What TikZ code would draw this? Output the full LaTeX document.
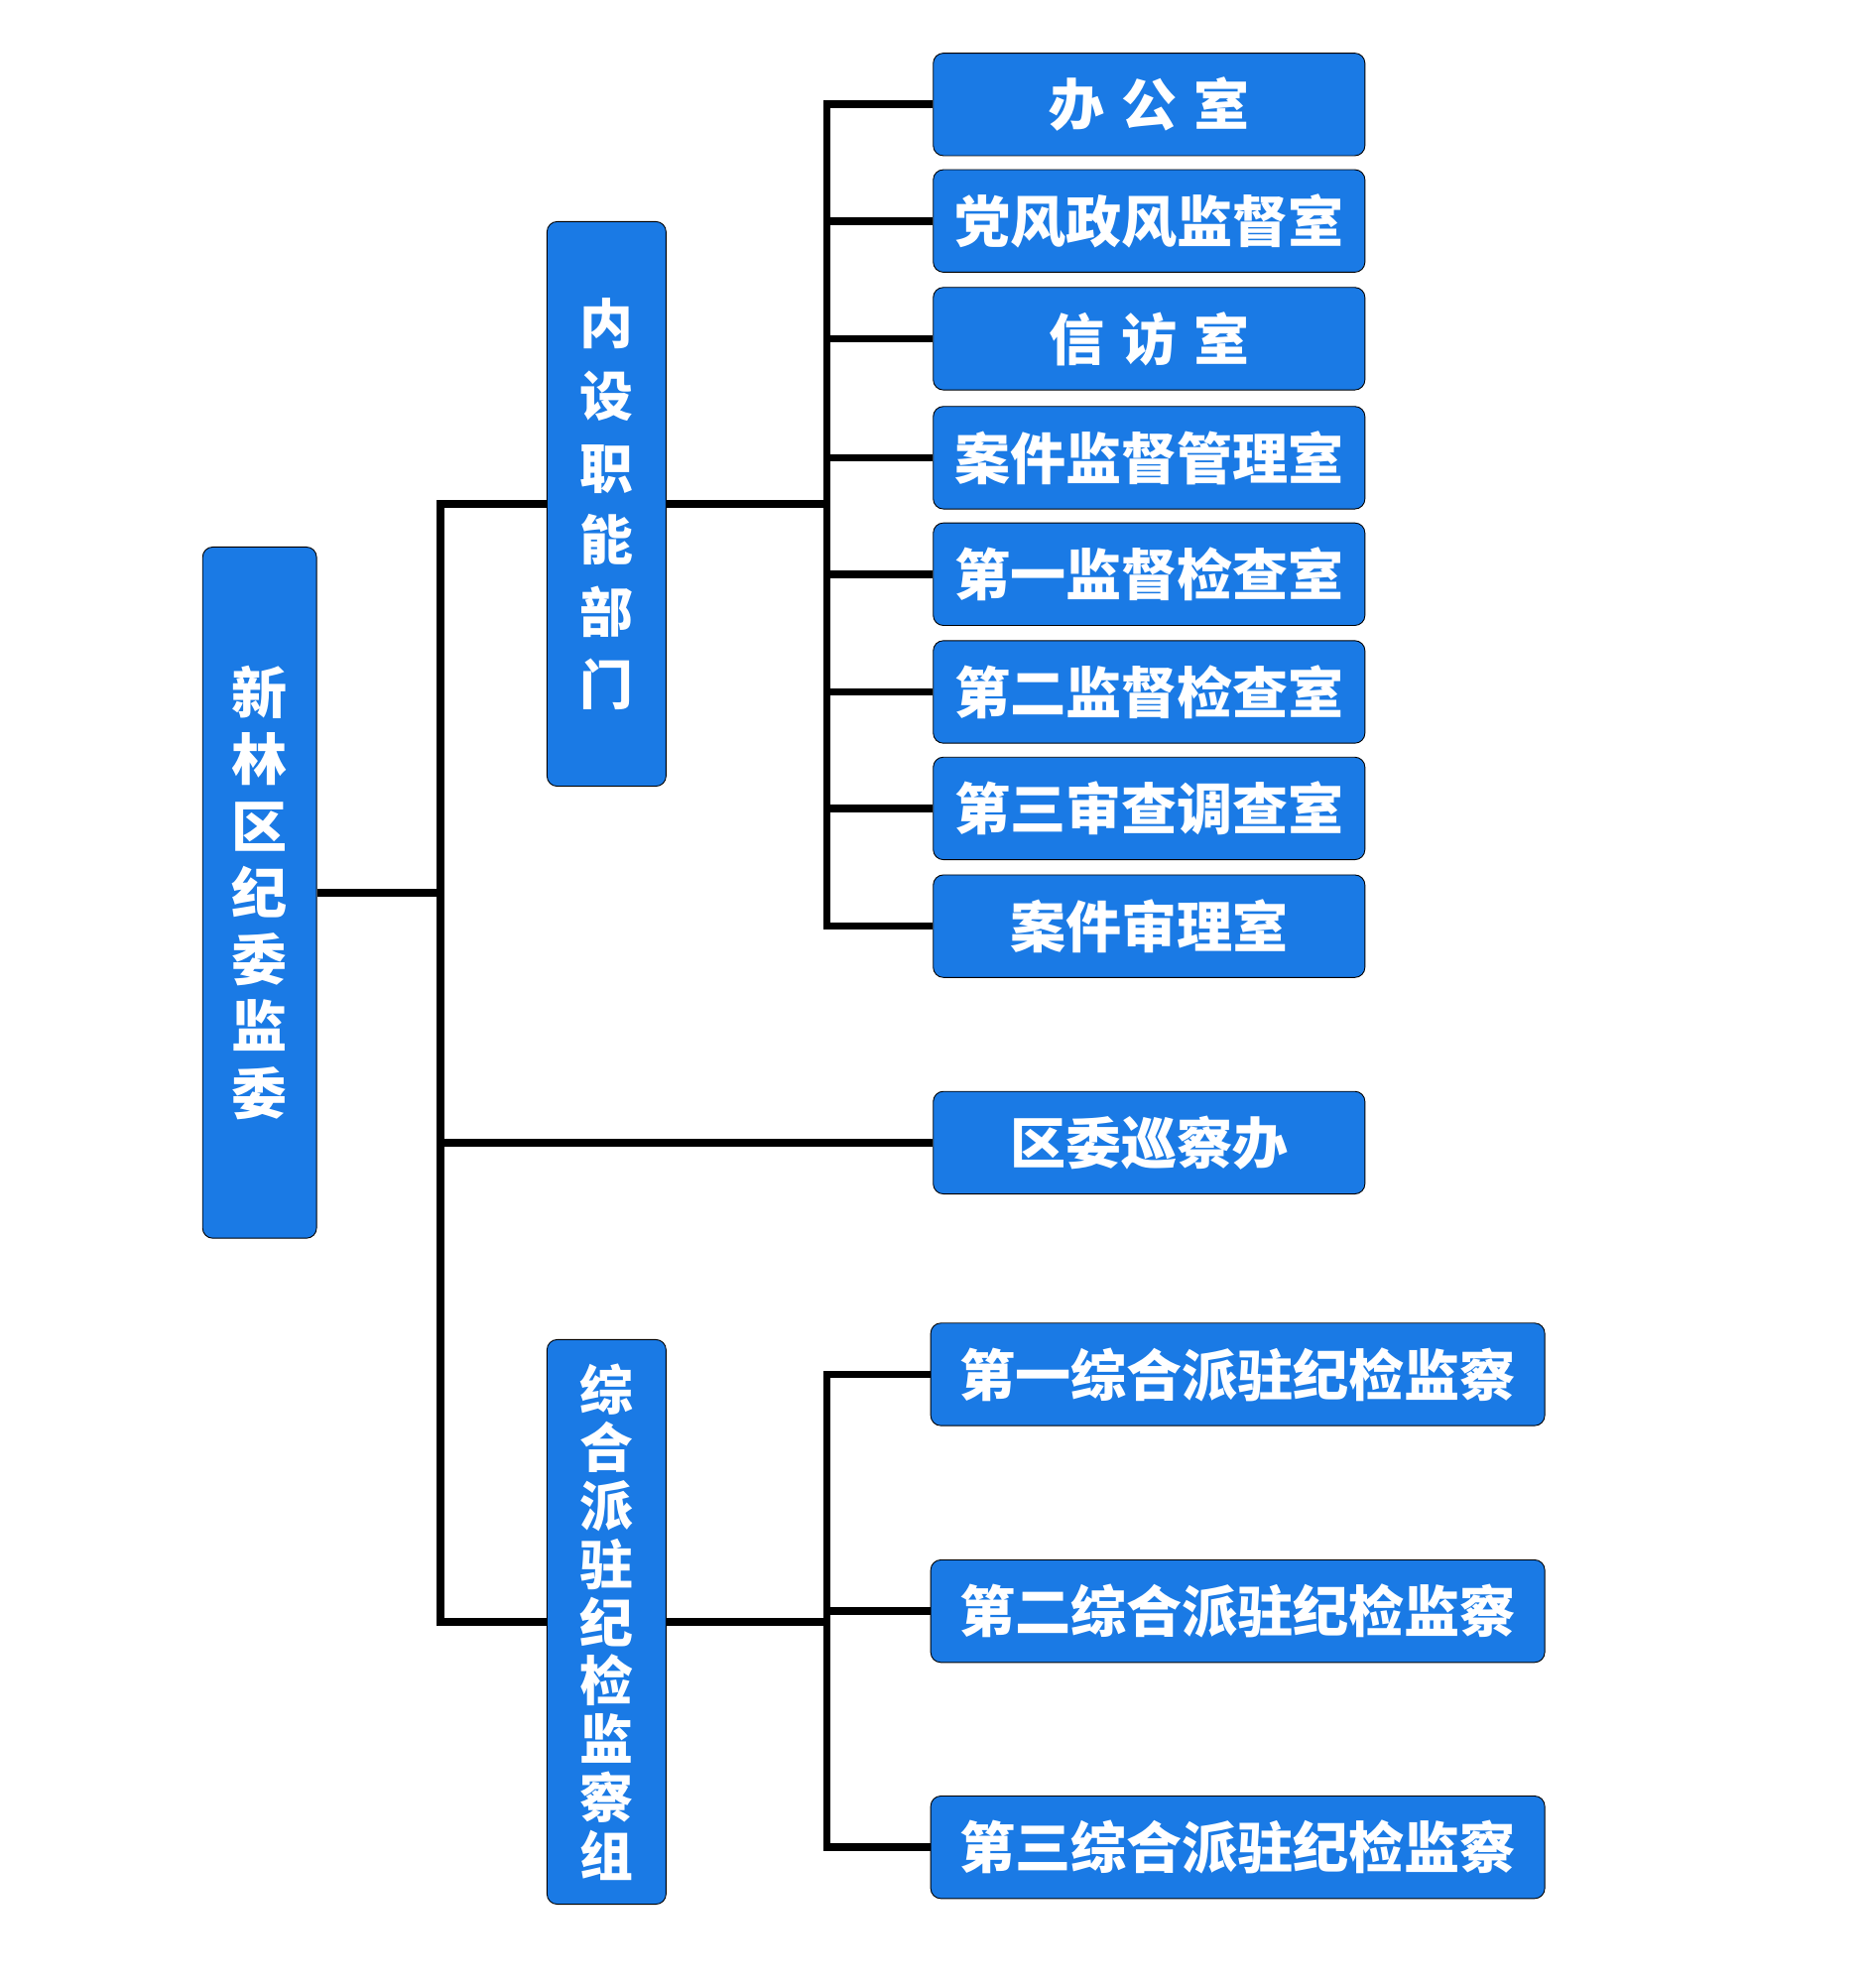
\documentclass[tikz,border=0pt]{standalone}
\usepackage{fontspec}
\setmainfont{Noto Sans CJK SC}
\usetikzlibrary{calc}
\definecolor{boxblue}{RGB}{26,122,229}

\begin{document}
\begin{tikzpicture}[
  x=0.02cm,y=-0.02cm,
  unitbox/.style={rectangle,rounded corners=0.16cm,draw=black,thin,fill=boxblue,text=white,inner sep=0pt,font=\bfseries\fontsize{25}{30}\selectfont},
  colbox/.style={unitbox,minimum width=1.88cm,minimum height=8.92cm,align=center},
  roombox/.style={unitbox,minimum width=6.82cm,minimum height=1.62cm},
  groupbox/.style={unitbox,minimum width=9.7cm,minimum height=1.62cm},
  link/.style={line width=0.12cm,black}
]

\useasboundingbox (0,0) rectangle (1481,1567);

\node[unitbox,minimum width=1.8cm,minimum height=10.92cm,align=center] (main) at (205,705)
  {新\\林\\区\\纪\\委\\监\\委};
\node[colbox,font=\bfseries\fontsize{24}{32.4}\selectfont] (neishe) at (479,398)
  {内\\设\\职\\能\\部\\门};
\node[colbox,font=\bfseries\fontsize{24}{26.2}\selectfont] (zonghe) at (479,1281)
  {综\\合\\派\\驻\\纪\\检\\监\\察\\组};

\foreach \i/\y/\t in {1/82.5/{办\hspace{0.3em}公\hspace{0.3em}室},2/174.5/党风政风监督室,
    3/267.5/{信\hspace{0.3em}访\hspace{0.3em}室},4/361.5/案件监督管理室,5/453.5/第一监督检查室,
    6/546.5/第二监督检查室,7/638.5/第三审查调查室,8/731.5/案件审理室}
  \node[roombox] (r\i) at (907.5,\y) {\t};

\node[roombox] (xuncha) at (907.5,902.5) {区委巡察办};

\foreach \i/\y/\t in {1/1085.5/第一,2/1272.5/第二,3/1459/第三}
  \node[groupbox] (p\i) at (977.5,\y) {\t 综合派驻纪检监察};

\coordinate (trunk) at (348,400);
\coordinate (bus) at (653,400);

% main trunk
\draw[link] (main.east) -- (main.east -| trunk);
\draw[link] (neishe.west) -| (zonghe.west -| trunk) -- (zonghe.west);
\draw[link] (xuncha.west) -- (xuncha.west -| trunk);

% offices
\draw[link] (neishe.east) -- (neishe.east -| bus);
\draw[link] (r1.west) -| (r8.west -| bus) -- (r8.west);
\foreach \i in {2,...,7}
  \draw[link] (r\i.west) -- (r\i.west -| bus);

% groups
\draw[link] (zonghe.east) -- (zonghe.east -| bus);
\draw[link] (p1.west) -| (p3.west -| bus) -- (p3.west);
\draw[link] (p2.west) -- (p2.west -| bus);

\end{tikzpicture}
\end{document}
